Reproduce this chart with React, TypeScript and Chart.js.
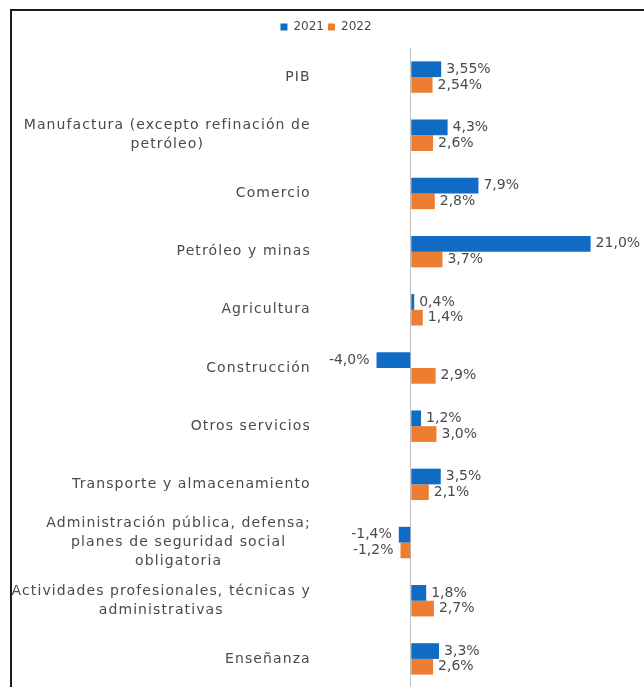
import React, { useEffect, useRef } from "react";
import { Chart, registerables } from "chart.js";

Chart.register(...registerables);

const categories: (string | string[])[] = [
  "PIB",
  ["Manufactura (excepto refinación de", "petróleo)"],
  "Comercio",
  "Petróleo y minas",
  "Agricultura",
  "Construcción",
  "Otros servicios",
  "Transporte y almacenamiento",
  ["Administración pública, defensa;", "planes de seguridad social", "obligatoria"],
  ["Actividades profesionales, técnicas y", "administrativas"],
  "Enseñanza",
];

const values2021 = [3.55, 4.3, 7.9, 21.0, 0.4, -4.0, 1.2, 3.5, -1.4, 1.8, 3.3];
const values2022 = [2.54, 2.6, 2.8, 3.7, 1.4, 2.9, 3.0, 2.1, -1.2, 2.7, 2.6];
const decimals = [2, 1, 1, 1, 1, 1, 1, 1, 1, 1, 1];
const seriesNames = ["2021", "2022"];

const FONT = '"DejaVu Sans", sans-serif';
const TEXT_COLOR = "#4a4a4a";
const BLUE = "#0F6BC4";
const ORANGE = "#ED7D31";

const fmt = (v: number, d: number) => v.toFixed(d).replace(".", ",") + "%";

const legendSpacing = {
  id: "legendSpacing",
  beforeInit(chart: any) {
    const legend = chart.legend;
    if (!legend) return;
    const orig = legend.fit;
    legend.fit = function () {
      orig.call(this);
      this.height += 5;
    };
  },
};

const labelsPlugin = {
  id: "customLabels",
  afterDraw(chart: any) {
    const ctx = chart.ctx;
    const yScale = chart.scales.y;
    const xScale = chart.scales.x;
    ctx.save();
    ctx.fillStyle = TEXT_COLOR;
    ctx.textBaseline = "middle";
    // category labels
    ctx.font = `14px ${FONT}`;
    try {
      (ctx as any).letterSpacing = "1.1px";
    } catch (e) {}
    const right = xScale.getPixelForValue(0) - 100;
    const lh = 19;
    categories.forEach((lab, i) => {
      const lines = Array.isArray(lab) ? lab : [lab];
      const w = Math.max(...lines.map((l) => ctx.measureText(l).width));
      const cx = right - w / 2;
      const cy = yScale.getPixelForValue(i);
      ctx.textAlign = "center";
      lines.forEach((ln, j) => {
        ctx.fillText(ln, cx, cy + (j - (lines.length - 1) / 2) * lh);
      });
    });
    // value labels
    try {
      (ctx as any).letterSpacing = "0px";
    } catch (e) {}
    ctx.font = `14px ${FONT}`;
    chart.data.datasets.forEach((ds: any, di: number) => {
      const meta = chart.getDatasetMeta(di);
      meta.data.forEach((bar: any, i: number) => {
        const v = ds.data[i];
        const txt = fmt(v, decimals[i]);
        if (v >= 0) {
          ctx.textAlign = "left";
          ctx.fillText(txt, bar.x + 5, bar.y);
        } else {
          ctx.textAlign = "right";
          ctx.fillText(txt, bar.x - 7, bar.y);
        }
      });
    });
    ctx.restore();
  },
};

export default function App() {
  const ref = useRef<HTMLCanvasElement | null>(null);
  useEffect(() => {
    if (!ref.current) return;
    const chart = new Chart(ref.current, {
      type: "bar",
      data: {
        labels: categories.map((c) => (Array.isArray(c) ? c.join(" ") : c)),
        datasets: [
          { label: seriesNames[0], data: values2021, backgroundColor: BLUE },
          { label: seriesNames[1], data: values2022, backgroundColor: ORANGE },
        ],
      },
      options: {
        indexAxis: "y",
        responsive: false,
        animation: false,
        devicePixelRatio: 1,
        layout: { padding: { left: 10, right: 2, top: 17, bottom: 12 } },
        datasets: { bar: { categoryPercentage: 0.54, barPercentage: 1 } },
        plugins: {
          legend: {
            display: true,
            position: "top",
            labels: {
              boxWidth: 7,
              boxHeight: 7,
              padding: 4,
              color: TEXT_COLOR,
              font: { family: FONT, size: 12 },
            },
          },
          tooltip: { enabled: false },
        },
        scales: {
          x: {
            min: -46.8,
            max: 27,
            ticks: { display: false, stepSize: 0.1 },
            afterBuildTicks: (scale: any) => {
              scale.ticks = [{ value: 0 }];
            },
            border: { display: false },
            grid: {
              drawTicks: false,
              color: (c: any) => (c.tick && c.tick.value === 0 ? "#BFBFBF" : "rgba(0,0,0,0)"),
              lineWidth: 1,
            },
          },
          y: { display: false },
        },
      },
      plugins: [legendSpacing, labelsPlugin],
    } as any);
    return () => chart.destroy();
  }, []);
  return (
    <div
      style={{
        position: "absolute",
        left: 0,
        top: 0,
        width: 644,
        height: 687,
        overflow: "hidden",
        background: "#fff",
      }}
    >
      <canvas ref={ref} width={644} height={700} style={{ position: "absolute", left: 0, top: 0 }} />
      <div
        style={{
          position: "absolute",
          left: 10,
          top: 9,
          width: 700,
          height: 720,
          borderLeft: "2px solid #1c1c1c",
          borderTop: "2px solid #1c1c1c",
          pointerEvents: "none",
        }}
      />
    </div>
  );
}
